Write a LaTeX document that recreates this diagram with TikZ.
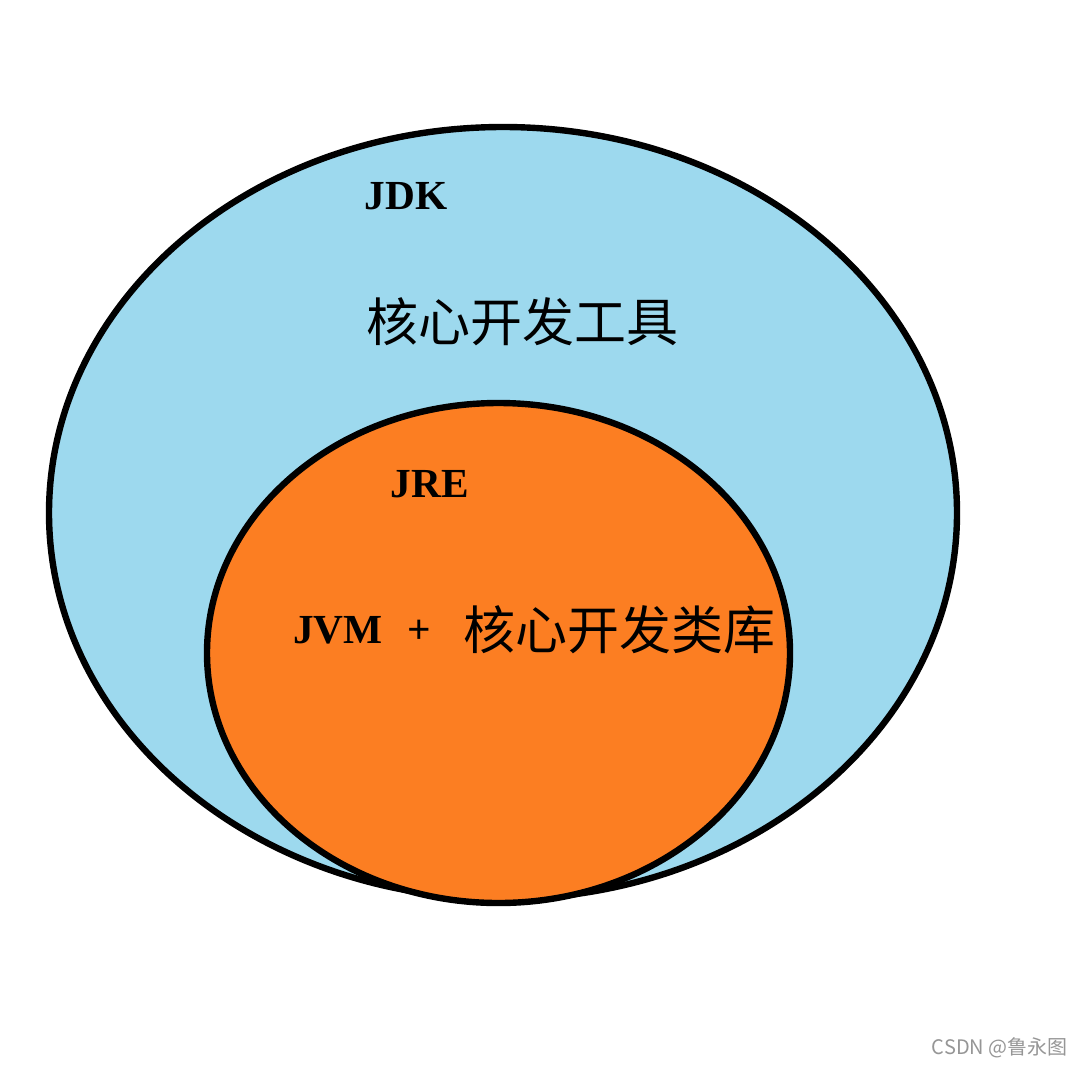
\documentclass[tikz,border=0pt]{standalone}
\usepackage{fontspec}
\setmainfont{Liberation Serif}
\newfontfamily\cjk{Noto Sans CJK SC}
\newfontfamily\wm{Noto Sans CJK SC}
\definecolor{jdkblue}{RGB}{157,217,238}
\definecolor{jreorange}{RGB}{252,126,34}
\definecolor{wmgray}{RGB}{150,150,150}
\begin{document}
\begin{tikzpicture}[x=0.75pt,y=-0.75pt,
  ring/.style={draw=black,line width=4.8pt},
  lat/.style={font=\fontsize{31}{36}\selectfont\bfseries,inner sep=0pt,text=black},
  han/.style={font=\fontsize{39}{44}\selectfont\cjk,inner sep=0pt,text=black}]
\useasboundingbox (0,0) rectangle (1080,1067);
\fill[white] (0,0) rectangle (1080,1067);
\path[ring,fill=jdkblue] (503,513) ellipse [x radius=454,y radius=386];
\path[ring,fill=jreorange] (498.5,653) ellipse [x radius=291.5,y radius=250];
\node[lat] (jdk) at (406,196) {JDK};
\node[han] (tools) at (522,322) {核心开发工具};
\node[lat] (jre) at (430,484) {JRE};
\node[lat,anchor=west] (jvm) at (293,630) {JVM\hspace{0.6em}+};
\node[han,anchor=east] (lib) at (776,630) {核心开发类库};
\node[font=\fontsize{15}{18}\selectfont\wm,text=wmgray,anchor=east,inner sep=0pt] (wm) at (1068,1048) {CSDN @鲁永图};
\end{tikzpicture}
\end{document}
